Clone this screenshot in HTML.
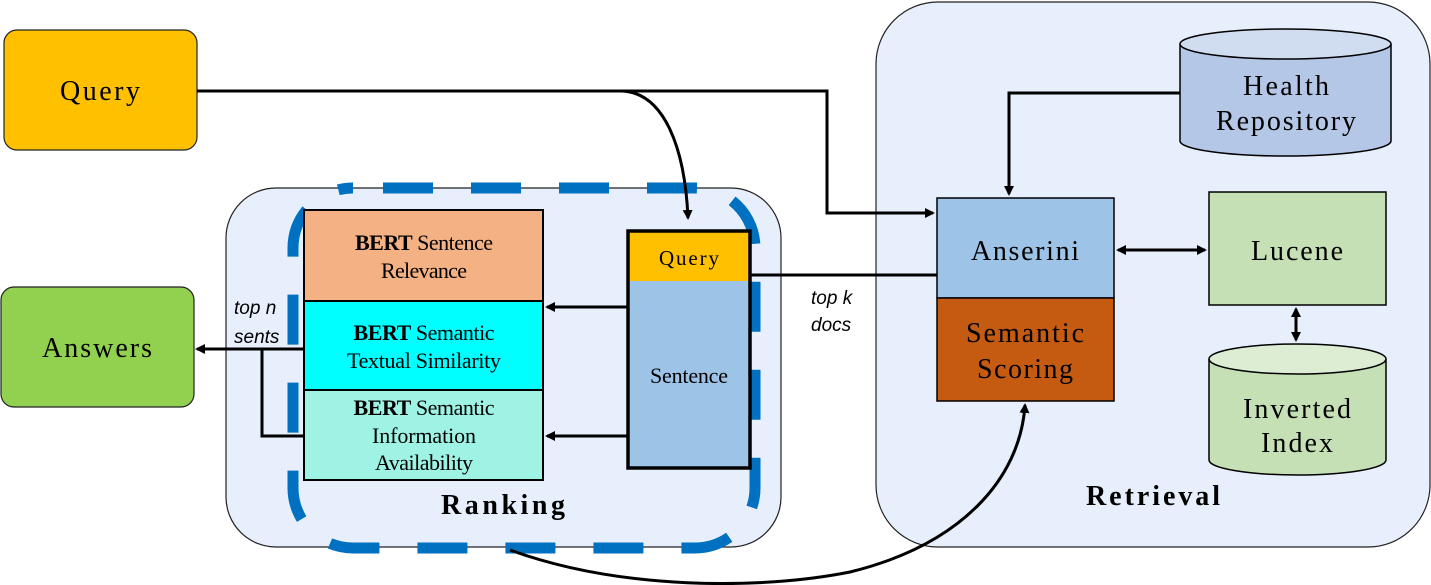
<!DOCTYPE html>
<html><head><meta charset="utf-8"><style>
html,body{margin:0;padding:0;background:#fff}
svg{display:block}
.s{font-family:"Liberation Serif",serif;fill:#000}
.a{font-family:"Liberation Sans",sans-serif;font-style:italic;font-size:19px}
</style></head><body>
<svg width="1431" height="585" viewBox="0 0 1431 585" xmlns="http://www.w3.org/2000/svg">
<defs>
<marker id="ar" markerWidth="10" markerHeight="10" refX="8" refY="5" orient="auto" markerUnits="userSpaceOnUse">
<path d="M0,0 L10,5 L0,10 z" fill="#000"/></marker>
<marker id="as" markerWidth="10" markerHeight="10" refX="2" refY="5" orient="auto" markerUnits="userSpaceOnUse">
<path d="M10,0 L0,5 L10,10 z" fill="#000"/></marker>
</defs>
<rect x="876" y="2" width="554" height="545" rx="62" fill="#E8EFFC" stroke="#222" stroke-width="1.2"/>
<rect x="226" y="188" width="555" height="359" rx="50" fill="#E8EFFC" stroke="#222" stroke-width="1.2"/>
<rect x="293" y="188" width="462" height="360" rx="60" fill="none" stroke="#0070C0" stroke-width="11" stroke-dasharray="50 38" stroke-dashoffset="-30"/>

<rect x="4" y="30" width="193" height="120" rx="13" fill="#FFC000" stroke="#222" stroke-width="1.2"/>
<text x="100" y="100" class="s" font-size="28" text-anchor="middle" textLength="80">Query</text>
<rect x="1" y="287" width="193" height="120" rx="13" fill="#92D050" stroke="#222" stroke-width="1.2"/>
<text x="97" y="357" class="s" font-size="28" text-anchor="middle" textLength="110">Answers</text>

<rect x="304" y="210" width="239" height="91" fill="#F4B183" stroke="#000" stroke-width="2"/>
<rect x="304" y="301" width="239" height="89" fill="#00FFFF" stroke="#000" stroke-width="2"/>
<rect x="304" y="390" width="239" height="90" fill="#9FF3E4" stroke="#000" stroke-width="2"/>
<g class="s" font-size="22" text-anchor="middle">
<text x="424" y="250" textLength="138"><tspan font-weight="bold">BERT</tspan> Sentence</text>
<text x="424" y="278" textLength="86">Relevance</text>
<text x="424" y="340" textLength="141"><tspan font-weight="bold">BERT</tspan> Semantic</text>
<text x="424" y="368" textLength="154">Textual Similarity</text>
<text x="424" y="415" textLength="141"><tspan font-weight="bold">BERT</tspan> Semantic</text>
<text x="424" y="443" textLength="104">Information</text>
<text x="424" y="470" textLength="98">Availability</text>
</g>

<rect x="628" y="231" width="122" height="50" fill="#FFC000"/>
<rect x="628" y="281" width="122" height="187" fill="#9DC3E6"/>
<rect x="628" y="231" width="122" height="237" fill="none" stroke="#000" stroke-width="3.5"/>
<text x="689" y="265" class="s" font-size="21" text-anchor="middle" textLength="60">Query</text>
<text x="689" y="383" class="s" font-size="22" text-anchor="middle" textLength="78">Sentence</text>

<g stroke="#000" stroke-width="3" fill="none">
<line x1="627" y1="307" x2="547" y2="307" marker-end="url(#ar)"/>
<line x1="627" y1="436" x2="547" y2="436" marker-end="url(#ar)"/>
<line x1="304" y1="349" x2="197" y2="349" marker-end="url(#ar)"/>
<polyline points="262,349 262,436 304,436"/>
</g>
<text x="234" y="314" class="a">top n</text>
<text x="234" y="343" class="a">sents</text>
<text x="811" y="304" class="a">top k</text>
<text x="811" y="331" class="a">docs</text>

<rect x="937" y="198" width="177" height="100" fill="#9DC3E6" stroke="#000" stroke-width="1.5"/>
<rect x="937" y="298" width="177" height="103" fill="#C55A11" stroke="#000" stroke-width="1.5"/>
<text x="1025" y="260" class="s" font-size="28" text-anchor="middle" textLength="108">Anserini</text>
<text x="1025" y="342" class="s" font-size="28" text-anchor="middle" textLength="118">Semantic</text>
<text x="1025" y="378" class="s" font-size="28" text-anchor="middle" textLength="96">Scoring</text>

<rect x="1209" y="192" width="177" height="113" fill="#C5E0B4" stroke="#000" stroke-width="1.5"/>
<text x="1297" y="260" class="s" font-size="28" text-anchor="middle" textLength="92">Lucene</text>

<path d="M1180,44 L1180,141 A105.5,15 0 0 0 1391,141 L1391,44" fill="#B4C7E7" stroke="#000" stroke-width="1.5"/>
<ellipse cx="1285.5" cy="44" rx="105.5" ry="15" fill="#D0DCF0" stroke="#000" stroke-width="1.5"/>
<text x="1286" y="95" class="s" font-size="28" text-anchor="middle" textLength="86">Health</text>
<text x="1286" y="130" class="s" font-size="28" text-anchor="middle" textLength="140">Repository</text>

<path d="M1209,359 L1209,460 A88.5,15 0 0 0 1386,460 L1386,359" fill="#C5E0B4" stroke="#000" stroke-width="1.5"/>
<ellipse cx="1297.5" cy="359" rx="88.5" ry="15" fill="#DCEDD3" stroke="#000" stroke-width="1.5"/>
<text x="1297" y="418" class="s" font-size="28" text-anchor="middle" textLength="108">Inverted</text>
<text x="1297" y="452" class="s" font-size="28" text-anchor="middle" textLength="72">Index</text>

<g stroke="#000" stroke-width="3" fill="none">
<polyline points="1180,93 1009,93 1009,194" marker-end="url(#ar)"/>
<line x1="1118" y1="250" x2="1205" y2="250" marker-start="url(#as)" marker-end="url(#ar)"/>
<line x1="1296" y1="309" x2="1296" y2="340" marker-start="url(#as)" marker-end="url(#ar)"/>
<line x1="750" y1="275" x2="937" y2="275"/>
<polyline points="197,91 827,91 827,213 933,213" marker-end="url(#ar)"/>
<path d="M620,91 C665,91 685,150 688,218" marker-end="url(#ar)"/>
<path d="M510,550 C620,590 760,590 850,572 C960,545 1020,480 1025,405" marker-end="url(#ar)"/>
</g>

<text x="503" y="514" class="s" font-size="28" font-weight="bold" text-anchor="middle" textLength="124">Ranking</text>
<text x="1153" y="505" class="s" font-size="28" font-weight="bold" text-anchor="middle" textLength="134">Retrieval</text>
</svg>
</body></html>
